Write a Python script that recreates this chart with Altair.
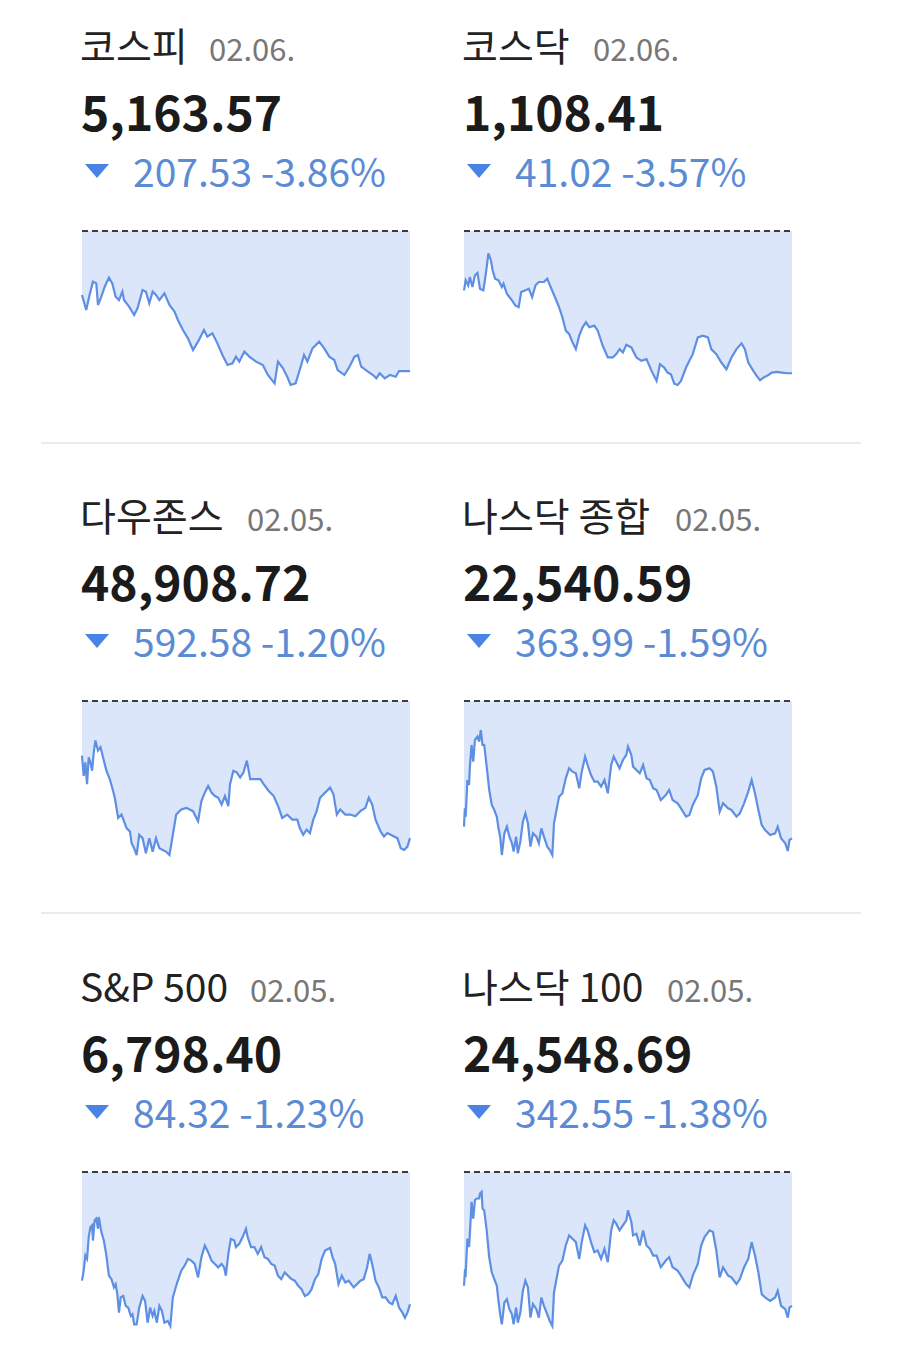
import altair as alt
import pandas as pd

# ---------------- data ----------------
names = ["코스피", "코스닥", "다우존스", "나스닥 종합", "S&P 500", "나스닥 100"]
dates = ["02.06.", "02.06.", "02.05.", "02.05.", "02.05.", "02.05."]
closes = [5163.57, 1108.41, 48908.72, 22540.59, 6798.40, 24548.69]
changes = [-207.53, -41.02, -592.58, -363.99, -84.32, -342.55]
pcts = [-3.86, -3.57, -1.20, -1.59, -1.23, -1.38]

# intraday series: minutes since open, index level
kospi_t = [0, 5, 9, 13, 17, 19, 23, 27, 32, 36, 40, 44, 48, 50, 56, 62, 66, 72, 76, 80,
           84, 88, 92, 98, 104, 110, 114, 120, 126, 132, 138, 145, 149, 155, 161, 167, 173, 179, 183, 187,
           193, 199, 207, 215, 221, 229, 233, 239, 244, 248, 254, 260, 264, 268, 274, 282, 288, 294, 300, 304,
           312, 318, 324, 328, 332, 340, 346, 350, 354, 360, 366, 373, 377, 383, 390]
kospi_v = [5276.3, 5254.0, 5276.3, 5296.0, 5293.5, 5261.4, 5273.8, 5288.6, 5301.9, 5293.5,
           5273.8, 5268.8, 5281.2, 5268.8, 5259.0, 5246.6, 5256.5, 5283.7, 5281.2, 5263.9,
           5281.2, 5276.3, 5268.8, 5278.7, 5261.4, 5251.6, 5239.2, 5224.4, 5212.0, 5194.7,
           5207.1, 5224.4, 5214.5, 5219.4, 5204.6, 5187.3, 5172.5, 5175.0, 5184.9, 5177.5,
           5192.3, 5184.9, 5177.5, 5172.5, 5157.7, 5145.3, 5177.5, 5167.6, 5155.2, 5142.9,
           5145.3, 5170.0, 5187.3, 5177.5, 5197.2, 5207.1, 5197.2, 5184.9, 5179.9, 5165.1,
           5157.7, 5170.0, 5184.9, 5187.3, 5170.0, 5162.6, 5157.7, 5152.8, 5160.2, 5152.8,
           5157.7, 5155.2, 5163.6, 5163.6, 5163.57]

kosdaq_t = [0, 2, 5, 7, 10, 13, 16, 19, 23, 26, 29, 32, 34, 37, 41, 45, 47, 51, 57, 61,
            65, 68, 73, 77, 81, 85, 89, 95, 99, 103, 109, 113, 117, 121, 125, 129, 133, 137, 141, 145,
            149, 155, 159, 165, 171, 177, 181, 185, 189, 193, 199, 205, 211, 217, 223, 229, 233, 238, 242, 246,
            250, 254, 258, 264, 268, 272, 278, 284, 290, 294, 300, 306, 312, 318, 324, 330, 334, 338, 344, 348,
            352, 356, 362, 366, 372, 378, 384, 390]
kosdaq_v = [1132.31, 1135.21, 1133.76, 1136.18, 1133.27, 1136.66, 1137.34, 1132.79, 1132.31, 1137.14,
            1142.95, 1141.01, 1138.11, 1135.69, 1135.21, 1133.27, 1134.24, 1131.34, 1129.40, 1127.95,
            1127.47, 1131.82, 1132.31, 1132.79, 1130.37, 1133.76, 1134.72, 1134.72, 1135.69, 1133.27,
            1129.89, 1127.47, 1124.57, 1120.70, 1119.73, 1117.31, 1115.37, 1119.24, 1121.66, 1123.11,
            1121.66, 1122.15, 1120.70, 1116.34, 1112.96, 1112.96, 1113.92, 1115.37, 1114.41, 1116.63,
            1115.86, 1112.96, 1111.99, 1112.47, 1109.09, 1106.18, 1111.02, 1110.05, 1108.60, 1108.12,
            1105.41, 1105.02, 1106.18, 1110.05, 1111.99, 1113.92, 1118.76, 1119.24, 1118.76, 1115.37,
            1113.92, 1111.50, 1109.57, 1112.96, 1115.37, 1117.02, 1115.37, 1111.50, 1109.09, 1107.63,
            1106.38, 1107.15, 1107.92, 1108.60, 1108.79, 1108.60, 1108.41, 1108.41]

dow_t = [0, 2, 4, 6, 8, 10, 12, 14, 16, 19, 22, 25, 29, 33, 37, 39, 43, 47, 50, 53,
         57, 59, 62, 65, 68, 72, 76, 80, 84, 88, 92, 96, 100, 104, 108, 112, 118, 124, 128, 132,
         138, 142, 146, 150, 154, 158, 162, 166, 170, 174, 176, 180, 184, 188, 192, 196, 200, 206, 212, 216,
         222, 228, 234, 238, 244, 250, 256, 259, 263, 267, 271, 275, 279, 283, 289, 295, 299, 303, 307, 313,
         319, 325, 331, 337, 341, 345, 349, 355, 359, 363, 367, 371, 375, 379, 383, 387, 390]
dow_v = [49265.4, 49178.1, 49236.3, 49141.7, 49258.1, 49236.3, 49199.9, 49280.0, 49330.9, 49287.3,
         49301.8, 49258.1, 49199.9, 49163.5, 49112.5, 49083.4, 48996.1, 49010.6, 48981.5, 48952.4,
         48937.8, 48886.9, 48865.0, 48835.9, 48923.3, 48908.7, 48843.2, 48908.7, 48850.5, 48908.7,
         48865.0, 48857.7, 48850.5, 48835.9, 48923.3, 49010.6, 49032.5, 49039.7, 49032.5, 49025.2,
         48981.5, 49068.9, 49105.3, 49134.4, 49105.3, 49090.7, 49083.4, 49054.3, 49090.7, 49047.0,
         49141.7, 49199.9, 49192.6, 49170.8, 49192.6, 49243.6, 49163.5, 49163.5, 49163.5, 49141.7,
         49112.5, 49090.7, 49039.7, 48996.1, 49010.6, 48988.8, 48988.8, 48952.4, 48923.3, 48945.1,
         48930.5, 48988.8, 49025.2, 49083.4, 49105.3, 49127.1, 49098.0, 49010.6, 49032.5, 49010.6,
         49010.6, 49003.3, 49025.2, 49039.7, 49083.4, 49054.3, 48988.8, 48937.8, 48916.0, 48930.5,
         48923.3, 48916.0, 48908.7, 48865.0, 48857.7, 48872.3, 48908.72]

nasdaq_t = [0, 1, 2, 4, 6, 7, 9, 11, 13, 16, 18, 20, 22, 24, 27, 30, 33, 36, 39, 41,
            43, 45, 48, 51, 54, 57, 59, 62, 64, 67, 70, 73, 76, 79, 82, 86, 89, 92, 95, 99,
            102, 105, 107, 110, 113, 117, 121, 125, 129, 133, 137, 140, 144, 147, 151, 155, 159, 163, 167, 171,
            175, 178, 181, 185, 189, 193, 195, 199, 201, 205, 209, 213, 217, 221, 225, 229, 234, 240, 244, 248,
            254, 258, 264, 268, 272, 278, 282, 286, 292, 296, 300, 304, 308, 314, 318, 324, 328, 333, 338, 342,
            346, 350, 354, 358, 364, 370, 373, 377, 382, 385, 387, 390]
nasdaq_v = [22571.5, 22620.1, 22598.0, 22695.2, 22682.0, 22730.6, 22788.0, 22743.8, 22801.2, 22810.1,
            22796.8, 22827.7, 22788.0, 22788.0, 22730.6, 22668.7, 22628.9, 22615.7, 22598.0, 22567.1,
            22545.0, 22496.4, 22553.9, 22571.5, 22545.0, 22527.3, 22505.3, 22545.0, 22500.8, 22531.8,
            22584.8, 22606.9, 22580.4, 22518.5, 22553.9, 22545.0, 22527.3, 22567.1, 22545.0, 22518.5,
            22509.7, 22496.4, 22580.4, 22615.7, 22651.0, 22659.9, 22699.6, 22726.1, 22717.3, 22712.9,
            22673.1, 22717.3, 22757.1, 22735.0, 22708.5, 22690.8, 22690.8, 22677.5, 22695.2, 22659.9,
            22735.0, 22757.1, 22743.8, 22726.1, 22748.2, 22761.5, 22783.6, 22761.5, 22730.6, 22721.7,
            22712.9, 22735.0, 22699.6, 22695.2, 22673.1, 22668.7, 22642.2, 22655.5, 22668.7, 22642.2,
            22633.4, 22620.1, 22598.0, 22602.4, 22628.9, 22655.5, 22699.6, 22721.7, 22726.1, 22717.3,
            22677.5, 22611.3, 22633.4, 22620.1, 22615.7, 22598.0, 22606.9, 22633.4, 22664.3, 22695.2,
            22659.9, 22615.7, 22575.9, 22562.7, 22549.4, 22553.9, 22571.5, 22540.6, 22527.3, 22507.0,
            22536.2, 22540.59]

sp500_t = [0, 2, 4, 6, 8, 10, 12, 13, 15, 17, 19, 20, 23, 26, 29, 32, 35, 38, 40, 42,
           44, 46, 49, 52, 55, 58, 60, 62, 65, 68, 72, 75, 78, 81, 84, 86, 89, 92, 95, 98,
           102, 105, 108, 112, 114, 118, 122, 126, 130, 134, 138, 142, 146, 150, 154, 158, 162, 166, 169, 171,
           174, 177, 181, 183, 187, 191, 195, 197, 201, 205, 209, 213, 217, 221, 225, 229, 233, 237, 241, 245,
           249, 253, 257, 261, 265, 269, 273, 277, 281, 285, 289, 295, 298, 301, 305, 309, 313, 317, 323, 327,
           331, 335, 339, 342, 345, 349, 353, 357, 361, 365, 369, 373, 377, 381, 384, 387, 390]
sp500_v = [6813.4, 6819.8, 6829.4, 6827.3, 6841.2, 6847.6, 6848.7, 6839.0, 6851.9, 6853.0,
           6846.5, 6854.0, 6844.4, 6839.0, 6829.4, 6816.6, 6814.4, 6809.1, 6811.2, 6804.8,
           6793.0, 6802.7, 6803.7, 6797.3, 6796.2, 6790.9, 6792.0, 6785.5, 6785.5, 6796.2,
           6803.7, 6800.5, 6786.6, 6796.2, 6790.9, 6794.1, 6786.6, 6797.3, 6794.1, 6786.6,
           6787.7, 6784.5, 6802.7, 6810.2, 6813.4, 6819.8, 6823.0, 6827.3, 6826.2, 6824.1,
           6815.5, 6828.3, 6835.8, 6831.6, 6826.2, 6824.1, 6821.9, 6824.1, 6821.9, 6816.6,
           6830.5, 6840.1, 6839.0, 6834.8, 6836.9, 6841.2, 6846.5, 6841.2, 6834.8, 6834.8,
           6830.5, 6834.8, 6828.3, 6827.3, 6824.1, 6823.0, 6816.6, 6814.4, 6818.7, 6816.6,
           6814.4, 6813.4, 6810.2, 6808.0, 6803.7, 6804.8, 6808.0, 6814.4, 6817.6, 6827.3,
           6832.6, 6834.3, 6828.3, 6824.1, 6811.2, 6816.6, 6812.3, 6813.4, 6809.1, 6811.2,
           6813.4, 6814.4, 6821.9, 6830.5, 6824.1, 6813.4, 6809.1, 6802.7, 6802.7, 6799.5,
           6798.4, 6803.7, 6796.2, 6793.0, 6789.8, 6793.0, 6798.40]

ndx_t = [0, 1, 2, 4, 6, 7, 9, 11, 13, 15, 18, 19, 21, 22, 24, 27,
         30, 33, 36, 39, 41, 43, 45, 48, 51, 54, 57, 59, 62, 64, 67, 70, 73, 76, 79, 82,
         86, 89, 92, 95, 99, 102, 105, 107, 110, 113, 117, 121, 125, 129, 133, 137, 140, 144, 147, 151,
         155, 159, 163, 167, 171, 175, 178, 181, 185, 189, 193, 195, 199, 201, 205, 209, 213, 217, 221, 225,
         229, 234, 240, 244, 248, 254, 258, 264, 268, 272, 278, 282, 286, 292, 296, 300, 304, 308, 314, 318,
         324, 328, 333, 338, 342, 346, 350, 354, 358, 364, 370, 373, 377, 382, 385, 387, 390]
ndx_v = [24600.2, 24634.5, 24630.2, 24720.4, 24698.9, 24733.2, 24814.8, 24771.9, 24819.1, 24823.4,
         24823.4, 24836.3, 24840.5, 24797.6, 24793.3, 24741.8,
         24673.1, 24634.5, 24617.3, 24600.2, 24561.5, 24527.2, 24501.4, 24557.2, 24565.8, 24540.1,
         24527.2, 24501.4, 24544.4, 24505.7, 24531.5, 24587.3, 24613.0, 24595.9, 24518.6, 24553.0,
         24540.1, 24518.6, 24570.1, 24548.7, 24527.2, 24510.0, 24497.1, 24583.0, 24617.3, 24651.7,
         24664.6, 24703.2, 24728.9, 24720.4, 24711.8, 24668.8, 24711.8, 24754.7, 24741.8, 24711.8,
         24686.0, 24690.3, 24668.8, 24694.6, 24660.3, 24741.8, 24767.6, 24759.0, 24741.8, 24754.7,
         24767.6, 24793.3, 24763.3, 24728.9, 24733.2, 24703.2, 24741.8, 24703.2, 24694.6, 24677.4,
         24677.4, 24647.4, 24664.6, 24673.1, 24647.4, 24638.8, 24625.9, 24604.5, 24595.9, 24625.9,
         24656.0, 24703.2, 24724.7, 24741.8, 24737.5, 24690.3, 24621.6, 24647.4, 24625.9, 24621.6,
         24604.5, 24617.3, 24647.4, 24668.8, 24711.8, 24677.4, 24634.5, 24578.7, 24570.1, 24561.5,
         24570.1, 24587.3, 24548.7, 24540.1, 24518.6, 24544.4, 24548.69]

series_t = [kospi_t, kosdaq_t, dow_t, nasdaq_t, sp500_t, ndx_t]
series_v = [kospi_v, kosdaq_v, dow_v, nasdaq_v, sp500_v, ndx_v]
SESSION = [0, 390]

# ---------------- layout / style ----------------
FONT = "Noto Sans CJK KR"
COL_X = [41, 423]
ROW_OFF = [0, 470, 941]
DATE_X = [168, 552, 206, 634, 209, 626]
SPARK_W = 328
SPARK_H = 154
SPARK_TOP = 223
FILL = "#dbe6fa"
LINE = "#5e8fe3"
TRI = "M-1,-0.58L1,-0.58L0,0.58Z"

layers = []
sparks = []
for i in range(6):
    r, c = divmod(i, 2)
    x0 = COL_X[c]
    off = ROW_OFF[r]
    prev = round(closes[i] - changes[i], 2)
    info = pd.DataFrame({
        "name": [names[i]],
        "date": [dates[i]],
        "close": [closes[i]],
        "chg": [f"{abs(changes[i]):,.2f} {pcts[i]:.2f}%"],
    })
    base = alt.Chart(info)
    layers.append(base.mark_text(align="left", baseline="alphabetic", font=FONT,
                                 fontSize=39, color="#222222")
                  .encode(text="name:N", x=alt.value(x0 - 2), y=alt.value(53 + off)))
    layers.append(base.mark_text(align="left", baseline="alphabetic", font=FONT,
                                 fontSize=31, color="#777777")
                  .encode(text="date:N", x=alt.value(DATE_X[i]), y=alt.value(53 + off)))
    layers.append(base.mark_text(align="left", baseline="alphabetic", font=FONT,
                                 fontSize=48, fontWeight="bold", color="#1b1b1b")
                  .encode(text=alt.Text("close:Q", format=",.2f"),
                          x=alt.value(x0 - 1), y=alt.value(123 + off)))
    layers.append(base.mark_point(shape=TRI, filled=True, size=576, color="#4a83e6",
                                  opacity=1, strokeWidth=0)
                  .encode(x=alt.value(x0 + 15), y=alt.value(163 + off)))
    layers.append(base.mark_text(align="left", baseline="alphabetic", font=FONT,
                                 fontSize=39, color="#5a8bd4")
                  .encode(text="chg:N", x=alt.value(x0 + 51), y=alt.value(179 + off)))

    t = series_t[i]
    v = series_v[i]
    assert len(t) == len(v), (i, len(t), len(v))
    df = pd.DataFrame({"t": t, "v": v, "prev": [prev] * len(t)})
    xs = alt.Scale(domain=SESSION, range=[x0, x0 + SPARK_W])
    ys = alt.Scale(domain=[min(v), prev], range=[SPARK_TOP + off + SPARK_H, SPARK_TOP + off],
                   zero=False, nice=False)
    sb = alt.Chart(df)
    area = sb.mark_area(color=FILL, opacity=1).encode(
        x=alt.X("t:Q", scale=xs, axis=None),
        y=alt.Y("v:Q", scale=ys, axis=None),
        y2="prev:Q")
    line = sb.mark_line(color=LINE, strokeWidth=2.2).encode(
        x=alt.X("t:Q", scale=xs, axis=None),
        y=alt.Y("v:Q", scale=ys, axis=None))
    rule = alt.Chart(pd.DataFrame({"a": [SESSION[0]], "b": [SESSION[1]], "prev": [prev]})).mark_rule(
        color="#3d3d3d", strokeWidth=2, strokeDash=[6, 4]).encode(
        x=alt.X("a:Q", scale=xs, axis=None), x2="b:Q",
        y=alt.Y("prev:Q", scale=ys, axis=None))
    sparks.append(alt.layer(area, line, rule))

sep = alt.Chart(pd.DataFrame({"k": [0]}))
for yy in [435, 905]:
    layers.append(sep.mark_rule(color="#ebebeb", strokeWidth=2)
                  .encode(x=alt.value(0), x2=alt.value(820), y=alt.value(yy)))

chart = alt.layer(*sparks, *layers).resolve_scale(x="independent", y="independent").properties(
    width=820, height=1335,
    padding={"left": 32, "top": 0, "right": 0, "bottom": 0},
).configure_view(stroke=None)

chart.save("out.html", embed_options={"renderer": "svg", "actions": False})
